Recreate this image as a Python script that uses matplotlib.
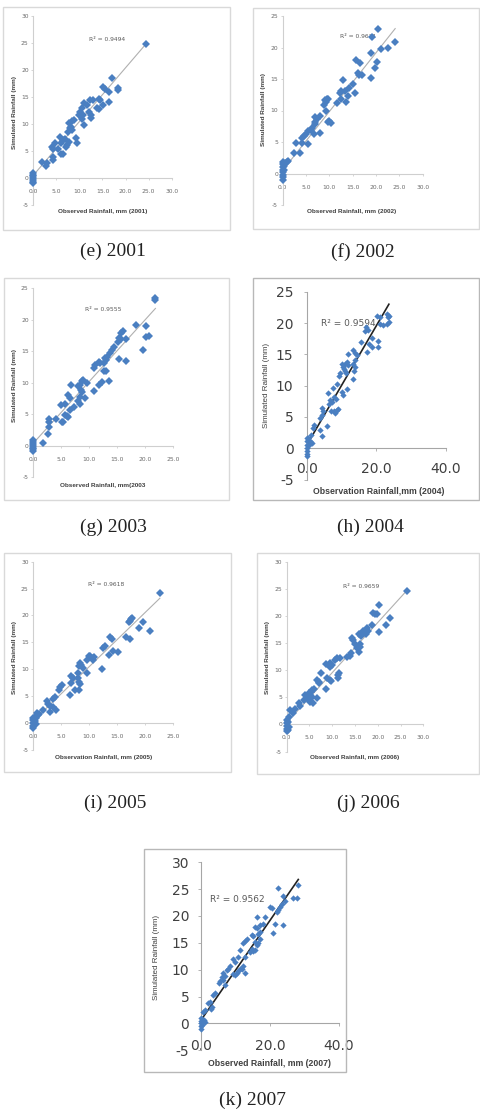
import matplotlib
matplotlib.use("Agg")
import matplotlib.pyplot as plt
from matplotlib.patches import Rectangle
from matplotlib.ticker import FormatStrFormatter, MultipleLocator

W, H = 481, 1116

# ---------------- data ----------------
years = ["2001", "2002", "2003", "2004", "2005", "2006", "2007"]
captions = ["(e) 2001", "(f) 2002", "(g) 2003", "(h) 2004", "(i) 2005", "(j) 2006", "(k) 2007"]
xlabels = ["Observed Rainfall, mm (2001)", "Observed Rainfall, mm (2002)",
           "Observed Rainfall, mm(2003", "Observation Rainfall,mm (2004)",
           "Observation Rainfall, mm (2005)", "Observed Rainfall, mm (2006)",
           "Observed Rainfall, mm (2007)"]
r2_labels = ["R² = 0.9494", "R² = 0.9631", "R² = 0.9555", "R² = 0.9594",
             "R² = 0.9618", "R² = 0.9659", "R² = 0.9562"]

obs_2001 = [24.4, 17.0, 18.4, 18.4, 16.4, 15.2, 15.5, 16.5, 15.2, 14.2, 14.5, 13.9, 14.2, 12.3, 12.9,
            11.7, 12.1, 12.5, 12.4, 11.0, 10.5, 10.1, 10.8, 10.6, 11.0, 9.9, 8.8, 8.3, 7.8, 8.1, 8.0,
            7.6, 8.3, 9.3, 9.5, 7.8, 6.9, 6.5, 7.2, 7.1, 5.8, 6.1, 4.7, 4.3, 5.4, 6.0, 6.4, 4.0, 4.2,
            4.3, 2.9, 2.7, 1.8, 0.0, 0.0, 0.0, 0.0, 0.0, 0.0, 0.0]
sim_2001 = [24.9, 18.6, 16.6, 16.3, 16.0, 16.8, 16.4, 14.1, 13.5, 14.7, 14.4, 12.9, 12.7, 14.5, 14.4,
            13.5, 12.3, 11.6, 11.2, 13.9, 12.9, 12.3, 11.6, 11.0, 9.8, 11.7, 10.7, 10.6, 10.1, 9.5, 9.2,
            8.5, 8.9, 7.5, 6.5, 6.7, 7.3, 7.0, 6.1, 5.8, 7.6, 6.4, 6.4, 5.4, 5.4, 4.4, 4.5, 5.8, 3.9,
            3.4, 2.8, 2.3, 3.0, 0.9, 0.6, 0.3, 0.0, -0.3, -0.7, -1.0]

obs_2002 = [20.5, 19.2, 24.1, 22.5, 21.1, 18.9, 20.2, 19.8, 15.7, 16.6, 16.2, 16.4, 17.1, 18.9, 12.9,
            15.1, 15.5, 14.3, 13.4, 12.6, 12.3, 14.1, 12.4, 13.6, 11.6, 9.6, 9.3, 9.1, 9.8, 8.9, 9.3,
            10.0, 10.3, 9.8, 7.9, 7.4, 6.9, 7.0, 6.9, 7.9, 6.2, 6.0, 5.5, 6.7, 5.0, 4.6, 4.2, 5.5,
            2.9, 4.1, 3.7, 2.4, 0.9, 1.2, 0.5, 0.0, 0.0, 0.0, 0.0, 0.0, 0.0, 0.0, 0.0, 0.2, 0.3]
sim_2002 = [23.0, 21.6, 20.9, 19.9, 19.7, 19.2, 17.7, 16.7, 18.0, 17.6, 16.0, 15.6, 15.6, 15.2, 14.8,
            14.2, 12.8, 13.5, 13.1, 13.1, 12.7, 12.3, 11.8, 11.4, 11.2, 11.8, 11.4, 11.7, 11.9, 10.9, 9.9,
            8.4, 8.0, 8.1, 9.1, 8.6, 9.0, 8.2, 7.8, 6.5, 7.2, 6.9, 6.7, 6.2, 6.3, 5.9, 5.6, 4.7,
            4.8, 4.8, 3.3, 3.2, 1.9, 2.0, 1.7, 1.8, 1.5, 1.0, 0.6, 0.2, -0.2, -0.6, -1.0, 1.2, 0.5]

obs_2003 = [21.9, 21.9, 18.4, 20.2, 20.3, 20.8, 19.6, 16.1, 15.8, 15.4, 15.2, 15.7, 16.6, 16.7, 15.4,
            14.4, 14.1, 13.8, 13.2, 12.9, 13.0, 12.7, 11.7, 12.0, 11.1, 10.9, 12.6, 13.0, 13.6, 12.3,
            11.8, 10.9, 9.7, 9.0, 8.7, 8.4, 8.1, 6.7, 8.5, 8.7, 8.4, 9.3, 6.3, 6.6, 8.1, 8.3, 7.3,
            6.6, 5.7, 4.9, 5.7, 6.3, 6.0, 5.3, 5.1, 4.1, 2.9, 2.9, 2.8, 2.7, 1.7,
            0.0, 0.0, 0.0, 0.0, 0.0, 0.0, 0.0]
sim_2003 = [23.5, 23.1, 19.2, 19.0, 17.3, 17.4, 15.2, 18.2, 17.9, 17.1, 16.5, 16.9, 16.9, 13.5, 13.8,
            15.6, 15.2, 14.7, 14.1, 14.0, 13.6, 13.1, 13.3, 13.1, 12.8, 12.3, 11.9, 11.9, 10.3, 10.1,
            9.7, 8.7, 10.0, 10.5, 10.2, 9.6, 9.5, 9.6, 8.8, 8.6, 7.8, 7.6, 8.1, 7.6, 7.1, 6.6, 6.2,
            5.6, 6.7, 6.5, 4.9, 4.6, 4.7, 3.8, 3.7, 4.3, 4.2, 3.8, 3.0, 1.8, 0.4,
            0.9, 0.6, 0.3, 0.0, -0.3, -0.6, -0.9]

obs_2004 = [23.0, 23.7, 23.4, 20.3, 21.1, 22.0, 23.0, 21.1, 23.7, 20.4, 20.4, 17.0, 16.7, 17.7, 18.0,
            18.7, 17.2, 15.5, 18.7, 13.4, 13.9, 14.4, 11.8, 13.9, 13.4, 11.5, 11.0, 12.0, 10.0, 10.3,
            10.7, 11.0, 11.3, 13.9, 13.6, 13.4, 11.7, 9.6, 9.4, 8.6, 7.5, 6.2, 10.0, 10.5, 7.9, 8.4,
            6.7, 7.2, 6.5, 6.9, 8.6, 8.1, 9.1, 7.7, 5.7, 4.3, 4.8, 4.3, 3.8, 4.3, 3.8, 2.1, 1.9, 1.2,
            0.5, 1.0, 0.8, 1.4, 0.0, 0.0, 0.0, 0.0, 0.0, 0.0, 0.0]
sim_2004 = [21.4, 21.2, 20.9, 21.2, 21.0, 19.7, 19.8, 19.9, 20.1, 17.1, 16.2, 19.4, 18.7, 18.9, 16.6,
            16.2, 15.4, 17.0, 17.6, 15.7, 15.2, 14.9, 15.0, 14.1, 13.4, 13.8, 13.4, 13.3, 13.4, 13.0,
            12.7, 12.3, 12.0, 12.9, 12.3, 11.1, 9.5, 12.0, 11.6, 10.2, 9.6, 8.8, 9.0, 8.5, 8.2, 7.9,
            7.7, 7.4, 7.0, 6.0, 6.1, 5.6, 6.3, 5.9, 3.5, 6.4, 6.0, 5.3, 4.8, 1.9, 2.9, 3.7, 3.3, 2.1,
            1.7, 1.2, 0.6, 0.9, 1.6, 1.1, 0.6, 0.1, -0.4, -0.9, -1.3]

obs_2005 = [22.6, 17.7, 17.4, 17.3, 17.0, 19.5, 18.9, 20.8, 16.5, 17.3, 13.7, 14.0, 12.8, 12.5, 14.3,
            15.2, 13.6, 12.2, 10.9, 10.6, 10.4, 9.6, 10.0, 10.2, 8.3, 8.6, 8.9, 8.2, 9.6, 7.9, 6.8,
            7.0, 8.0, 8.2, 8.3, 6.7, 7.4, 8.2, 6.5, 5.1, 4.8, 4.6, 3.9, 3.6, 2.4, 2.7, 3.0, 3.6, 4.0,
            3.0, 1.7, 0.7, 1.1, 0.5, 0.0, 0.0, 0.0, 0.0, 0.0, 0.3, 0.5, 0.8, 0.4]
sim_2005 = [24.2, 19.6, 19.3, 19.0, 18.8, 18.8, 17.6, 17.1, 15.9, 15.7, 16.0, 15.7, 14.3, 14.0, 13.4,
            13.2, 12.6, 10.1, 12.3, 11.8, 12.0, 11.7, 12.5, 12.4, 11.2, 10.8, 10.3, 10.5, 9.3, 9.3, 8.7,
            8.3, 8.3, 7.7, 7.2, 7.5, 6.2, 6.2, 5.2, 7.0, 6.6, 6.1, 4.9, 4.4, 4.1, 3.6, 3.1, 2.9, 2.4,
            2.1, 2.4, 1.9, 1.7, 1.3, 1.0, 0.5, 0.0, -0.5, -1.0, 0.3, 0.9, 1.4, -0.2]

obs_2006 = [26.5, 20.3, 19.0, 19.4, 19.8, 22.7, 21.7, 18.7, 20.3, 17.6, 17.9, 17.4, 16.8, 15.9, 16.3,
            14.3, 14.6, 15.0, 16.1, 16.0, 15.5, 15.9, 14.1, 13.8, 13.3, 11.7, 11.0, 10.6, 9.5, 9.9,
            8.6, 9.4, 11.5, 11.2, 11.2, 8.9, 9.4, 9.7, 7.6, 6.6, 7.0, 7.2, 8.6, 5.9, 5.5, 5.3, 4.8,
            5.1, 5.5, 6.6, 5.7, 4.0, 4.4, 4.8, 5.1, 3.7, 2.6, 2.9, 1.8, 0.7, 1.3, 0.4, 0.0,
            0.0, 0.0, 0.0, 0.0, 0.3, 0.5, 0.2]
sim_2006 = [24.6, 22.0, 20.6, 20.3, 20.4, 19.7, 18.3, 18.4, 17.1, 17.7, 17.2, 16.6, 17.2, 16.6, 16.3,
            16.0, 15.6, 14.8, 14.8, 14.3, 14.0, 13.4, 13.1, 12.6, 12.5, 12.3, 12.2, 11.8, 11.3, 10.9,
            11.1, 10.6, 9.5, 9.1, 8.5, 8.5, 8.2, 8.0, 9.4, 8.2, 7.9, 7.7, 6.6, 6.6, 6.3, 6.0, 5.7,
            5.4, 5.1, 4.8, 3.9, 5.4, 4.8, 4.5, 4.2, 4.5, 3.9, 3.3, 2.9, 2.6, 2.1, 1.4, 0.8,
            0.3, -0.3, -0.8, -1.3, 0.5, -0.5, -1.0]

obs_2007 = [28.2, 26.6, 27.7, 22.2, 23.9, 24.3, 23.4, 22.9, 22.4, 22.1, 20.0, 20.5, 21.4, 23.7, 21.0,
            16.3, 18.5, 17.9, 17.1, 15.6, 16.1, 17.1, 16.6, 14.7, 15.2, 17.1, 15.6, 16.1, 16.6, 13.2,
            12.8, 12.3, 14.7, 15.2, 15.6, 14.2, 11.3, 10.8, 9.4, 9.9, 12.8, 12.3, 11.8, 11.3, 10.8,
            12.8, 10.3, 9.9, 9.4, 8.4, 7.9, 7.6, 6.5, 7.0, 6.0, 6.5, 5.5, 5.3, 7.0, 4.1, 3.6, 2.6,
            2.1, 3.1, 2.8, 1.2, 0.7, 0.0, 0.0, 0.0, 0.0, 0.0, 0.5, 0.8, 1.2, 0.3]
sim_2007 = [25.8, 23.4, 23.4, 25.3, 23.7, 22.7, 22.2, 21.7, 21.1, 20.8, 21.7, 21.4, 18.6, 18.3, 16.8,
            19.9, 19.8, 18.6, 18.3, 18.0, 17.7, 17.1, 16.6, 16.5, 16.3, 15.7, 15.2, 14.6, 14.9, 15.8,
            15.4, 15.0, 13.8, 13.4, 13.7, 13.2, 13.7, 12.4, 11.9, 11.5, 12.4, 10.6, 10.1, 10.2, 9.8,
            9.4, 9.3, 9.0, 9.2, 10.6, 10.2, 9.9, 9.3, 8.9, 8.7, 8.1, 7.8, 7.5, 7.1, 5.6, 5.3, 4.0,
            3.7, 3.1, 2.6, 2.5, 2.2, 1.0, 0.5, 0.0, -0.5, -1.0, 0.3, 0.6, 0.2, -0.3]

obs_all = [obs_2001, obs_2002, obs_2003, obs_2004, obs_2005, obs_2006, obs_2007]
sim_all = [sim_2001, sim_2002, sim_2003, sim_2004, sim_2005, sim_2006, sim_2007]

# trend lines (endpoints)
trend_x = [[0, 24.4], [0, 24.1], [0, 21.9], [0, 23.6], [0, 22.6], [0, 26.4], [0, 28.2]]
trend_y = [[0.5, 24.8], [0.5, 23.0], [0.4, 21.8], [0.5, 23.0], [0.4, 23.2], [0.3, 24.7], [0.6, 26.8]]
r2_pos = [(12.0, 25.7), (12.3, 21.8), (9.3, 21.6), (4.0, 20.0), (9.8, 25.8), (12.4, 25.5), (2.6, 23.0)]

x_max = [30, 30, 25, 40, 25, 30, 40]
x_step = [5, 5, 5, 20, 5, 5, 20]
y_max = [30, 25, 25, 25, 30, 30, 30]

# ---------------- layout (pixels, from top-left) ----------------
axes_px = [(33.3, 171.7, 16.0, 205.0),
           (282.7, 422.7, 16.0, 205.0),
           (33.3, 172.7, 288.3, 477.2),
           (306.7, 446.0, 291.7, 479.6),
           (33.3, 173.3, 561.7, 749.8),
           (286.7, 423.3, 561.7, 751.5),
           (201.0, 339.0, 862.3, 1050.2)]
frames = [(3, 230, 7, 230), (253, 479, 8, 229), (4, 229, 278, 500), (253, 479, 278, 500),
          (4, 231, 553, 772), (257, 479, 553, 774), (144, 346, 849, 1072)]
xlab_pos = [(103, 212), (352, 212), (103, 485), (379, 491), (104, 757), (355, 758), (270, 1063)]
ylab_pos = [(15, 112), (264, 110), (15, 385), (266, 385), (15, 657), (268, 657), (157, 957)]
cap_pos = [(113, 251), (363, 252), (113, 527), (370, 527), (115, 803), (368, 803), (253, 1100)]
big = [False, False, False, True, False, False, True]
xpad = [6.5, 6.5, 6.5, 7.5, 6.5, 6.5, 8.5]
ypad = [1.8, 1.8, 1.8, 7.0, 1.8, 1.8, 6.0]

fig = plt.figure(figsize=(W / 100, H / 100), dpi=100)
fig.patch.set_facecolor("white")

def fx(px):
    return px / W

def fy(py):
    return 1 - py / H

blue = "#4a7fc1"
for i in range(7):
    l, r, t, b = axes_px[i]
    ax = fig.add_axes([fx(l), fy(b), (r - l) / W, (b - t) / H])
    ax.set_xlim(0, x_max[i])
    ax.set_ylim(-5, y_max[i])
    ax.patch.set_alpha(0)
    for s in ["top", "right"]:
        ax.spines[s].set_visible(False)
    ax.spines["bottom"].set_position(("data", 0))
    spc = "#a6a6a6" if big[i] else "#cfcfcf"
    ax.spines["left"].set_color(spc)
    ax.spines["bottom"].set_color(spc)
    ax.spines["left"].set_linewidth(0.8)
    ax.spines["bottom"].set_linewidth(0.8)
    ax.xaxis.set_major_locator(MultipleLocator(x_step[i]))
    ax.yaxis.set_major_locator(MultipleLocator(5))
    ax.xaxis.set_major_formatter(FormatStrFormatter("%.1f"))
    ax.yaxis.set_major_formatter(FormatStrFormatter("%d"))
    tfs = 10 if big[i] else 4.3
    tcol = "#404040" if big[i] else "#6a6a6a"
    tl = 2.5 if big[i] else 1.5
    ax.tick_params(axis="both", direction="out", length=tl, width=0.6,
                   color=spc, labelsize=tfs, labelcolor=tcol)
    ax.tick_params(axis="x", pad=xpad[i])
    ax.tick_params(axis="y", pad=ypad[i])
    ax.plot(trend_x[i], trend_y[i], color="#222222" if big[i] else "#b0b0b0",
            lw=1.2 if big[i] else 0.8, zorder=2)
    ax.plot(obs_all[i], sim_all[i], linestyle="none", marker="D",
            markersize=3.2 if big[i] else 3.6, color=blue, markeredgewidth=0,
            clip_on=False, zorder=3)
    ax.text(r2_pos[i][0], r2_pos[i][1], r2_labels[i], fontsize=6.5 if big[i] else 4.3,
            color="#595959", va="center", ha="left", zorder=1)
    fl, fr, ft, fb = frames[i]
    fig.patches.append(Rectangle((fx(fl), fy(fb)), (fr - fl) / W, (fb - ft) / H,
                                 transform=fig.transFigure, fill=False,
                                 edgecolor="#b8b8b8" if big[i] else "#d9d9d9", lw=1.0))
    fig.text(fx(xlab_pos[i][0]), fy(xlab_pos[i][1]), xlabels[i],
             fontsize=6.3 if big[i] else 4.6, fontweight="bold", color="#404040",
             ha="center", va="center", family="Liberation Sans")
    fig.text(fx(ylab_pos[i][0]), fy(ylab_pos[i][1]), "Simulated Rainfall (mm)",
             fontsize=5.8 if big[i] else 4.6, fontweight="normal" if big[i] else "bold",
             color="#404040", ha="center", va="center", rotation=90, family="Liberation Sans")
    fig.text(fx(cap_pos[i][0]), fy(cap_pos[i][1]), captions[i], fontsize=14,
             family="Liberation Serif", color="#222222", ha="center", va="center")

fig.savefig("out.png", dpi=100)
